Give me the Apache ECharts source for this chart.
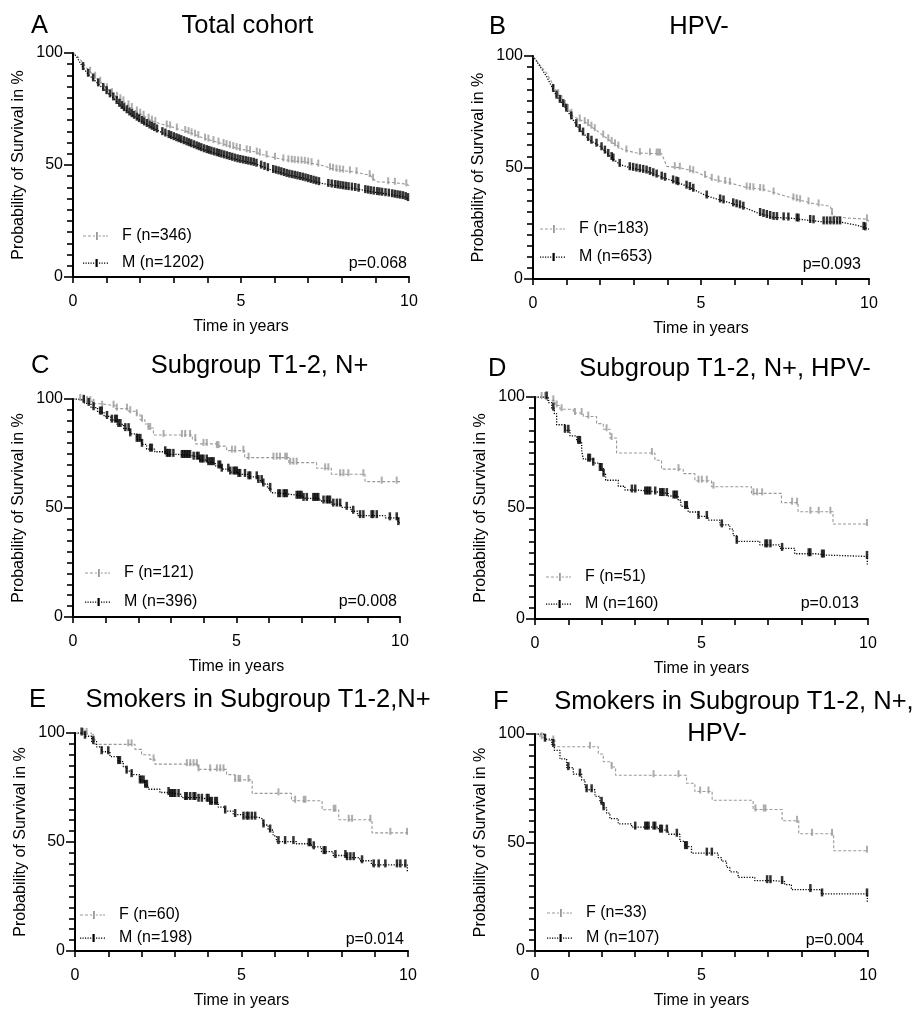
<!DOCTYPE html>
<html><head><meta charset="utf-8">
<script src="https://cdn.jsdelivr.net/npm/echarts@6/dist/echarts.min.js"></script>
<style>html,body{margin:0;padding:0;background:#fff}#c{width:919px;height:1010px}</style>
</head><body><div id="c"></div>
<script>
// ---------------- DATA ----------------
const panelLetters = ['A', 'B', 'C', 'D', 'E', 'F'];
const panelTitles = [['Total cohort'], ['HPV-'], ['Subgroup T1-2, N+'], ['Subgroup T1-2, N+, HPV-'], ['Smokers in Subgroup T1-2,N+'], ['Smokers in Subgroup T1-2, N+,', 'HPV-']];
const femaleLabels = ['F (n=346)', 'F (n=183)', 'F (n=121)', 'F (n=51)', 'F (n=60)', 'F (n=33)'];
const maleLabels = ['M (n=1202)', 'M (n=653)', 'M (n=396)', 'M (n=160)', 'M (n=198)', 'M (n=107)'];
const pValues = ['p=0.068', 'p=0.093', 'p=0.008', 'p=0.013', 'p=0.014', 'p=0.004'];
const xTicks = [0, 5, 10];
const yTicks = [0, 50, 100];
const xAxisName = 'Time in years';
const yAxisName = 'Probability of Survival in %';

// survival curves: [time in years, survival %]
const femaleA = [[0,100],[0.1,99],[0.2,97.5],[0.32,95],[0.45,92.5],[0.61,90.2],[0.75,88],[0.91,85.8],[1.05,83.6],[1.21,81.4],[1.35,80],[1.5,78.4],[1.7,76],[1.9,73.9],[2.15,71.5],[2.4,69.4],[2.65,68.2],[2.9,67.2],[3.15,66],[3.4,64.9],[3.65,63.4],[3.9,61.9],[4.15,60.8],[4.4,59.7],[4.65,58.5],[4.9,57.4],[5.15,56.6],[5.4,55.9],[5.65,54.6],[5.9,53.6],[6.15,52.8],[6.4,52.1],[6.65,51.7],[6.9,51.4],[7.15,50.6],[7.4,49.9],[7.65,48.6],[7.9,47.7],[8.15,47.3],[8.4,46.9],[8.65,46],[8.85,45.4],[8.95,43.5],[9.05,42.5],[9.5,42.2],[9.9,41.5],[10,40.8]];
const maleA = [[0,100],[0.1,98.5],[0.2,96],[0.32,93],[0.45,90.5],[0.61,88.3],[0.75,86.2],[0.91,84],[1.05,82],[1.21,79.8],[1.35,77.5],[1.5,75.4],[1.7,73],[1.9,70.9],[2.15,68.5],[2.4,66.4],[2.65,64.5],[2.9,62.8],[3.15,61.3],[3.4,59.8],[3.65,58.3],[3.9,56.8],[4.15,55.6],[4.4,54.5],[4.65,53.4],[4.9,52.3],[5.15,51.5],[5.4,50.7],[5.65,49.2],[5.9,47.8],[6.15,46.8],[6.4,45.6],[6.65,44.8],[6.9,43.9],[7.15,42.8],[7.4,41.8],[7.65,41.2],[7.9,40.6],[8.15,40],[8.4,39.5],[8.65,38.7],[8.9,38],[9.15,37.5],[9.4,37],[9.65,36.3],[9.85,35.8],[10,34.8]];
const femaleB = [[0,100],[0.2,96],[0.4,92.4],[0.55,88.5],[0.7,84.2],[0.9,79],[1.05,76],[1.19,73],[1.59,70],[1.99,65.5],[2.38,61],[2.68,58],[3.08,56.5],[3.83,56.2],[3.98,50.5],[4.37,49.9],[4.87,47.9],[5.37,44.6],[5.86,43.1],[6.36,41],[6.86,40.2],[7.35,37.9],[7.85,35.7],[8.35,33.8],[8.85,32.6],[8.92,28.3],[9.34,27.3],[9.93,26.9],[10,25.9]];
const maleB = [[0,100],[0.05,99.3],[0.2,95.5],[0.4,90.9],[0.55,86.5],[0.7,82],[0.9,78.2],[1.05,74.8],[1.19,71.5],[1.39,67],[1.55,64.5],[1.69,62.2],[1.99,59.6],[2.29,55.1],[2.58,51.4],[2.88,49.9],[3.38,48.4],[3.88,45.4],[4.27,43.5],[4.67,41],[5.17,37.2],[5.67,35],[6.16,32.8],[6.66,29.8],[7.16,27.6],[7.65,27.3],[8.15,26.4],[8.65,25.6],[9.14,25.6],[9.64,24.1],[10,22.4]];
const femaleC = [[0,100],[0.3,99],[0.6,97.8],[0.85,96.9],[1.3,95.6],[1.7,94.4],[1.95,93],[2.05,90.5],[2.2,88.5],[2.3,86.7],[2.46,83.5],[3.65,81.6],[3.75,79.4],[4.4,78.4],[4.7,76.3],[5.25,73.1],[6.6,70.8],[7.45,68.2],[7.9,65.5],[8.93,62.1],[10,62.1]];
const maleC = [[0,100],[0.15,99.4],[0.35,98],[0.55,96],[0.75,94],[0.95,92],[1.15,90.3],[1.35,88.3],[1.55,86.4],[1.75,84],[1.95,81.5],[2.1,79.2],[2.25,77],[2.5,75.8],[2.85,74.6],[3.2,74.1],[3.6,73.3],[3.85,72],[4.1,70.8],[4.35,69.3],[4.55,67.8],[4.8,66.5],[5.05,65.4],[5.35,64.3],[5.65,62.6],[5.8,61],[5.95,59],[6.05,57],[6.15,56.1],[6.75,55.4],[7.05,54.4],[7.55,53.2],[7.9,51.8],[8.2,50.3],[8.5,48.5],[8.7,46.5],[9.55,45.5],[9.95,43.3],[10,43.3]];
const femaleD = [[0,100],[0.35,98.5],[0.6,96.2],[0.75,94.5],[1.15,92.8],[1.45,91.2],[1.85,88],[2.05,85.5],[2.25,81.5],[2.45,74.8],[3.6,71.5],[3.8,67.5],[4.45,65.5],[4.8,62.3],[5.3,59.6],[6.5,56.6],[7.4,52.4],[7.9,48.3],[8.95,42.8],[10,42.8]];
const maleD = [[0,100],[0.4,97.5],[0.5,95],[0.58,92.5],[0.65,87.5],[0.9,85],[1.05,82.5],[1.25,80],[1.4,76],[1.45,72],[1.75,70.2],[1.95,67.8],[2.05,65.2],[2.12,62.5],[2.5,59.8],[2.7,58.1],[3.05,57.2],[3.7,56.5],[4.0,55.4],[4.3,53.5],[4.38,50.7],[4.6,48.2],[4.9,46.2],[5.2,44.5],[5.55,42.4],[5.85,40.5],[5.95,37.6],[6.05,35],[6.75,33.4],[7.35,31.8],[7.8,29.4],[8.45,28.8],[8.7,28.2],[9.98,24.5],[10,24.5]];
const femaleE = [[0,100],[0.5,97.3],[0.6,94.8],[1.8,92.5],[2.0,90],[2.25,87.9],[2.4,85.7],[3.7,83.3],[4.55,80.9],[4.8,78.5],[5.32,72.3],[6.5,68.9],[7.42,64.8],[7.92,60.2],[8.92,54.2],[10,54.2]];
const maleE = [[0,100],[0.3,98.5],[0.5,96],[0.65,93.6],[0.8,91.4],[1.05,89.2],[1.3,86.9],[1.45,84.5],[1.55,82.5],[1.7,80.9],[1.95,78],[2.1,76],[2.2,74.2],[2.55,72.7],[2.85,71.8],[3.2,70.4],[3.7,69.6],[4.05,68.2],[4.3,66],[4.5,64.2],[4.75,62.6],[5.05,61.4],[5.5,60.5],[5.65,57.8],[5.8,55.5],[5.95,52.8],[6.05,50.2],[6.65,49.2],[7.1,47.8],[7.4,45.6],[7.75,43.8],[8.15,42.8],[8.55,41.4],[8.9,39.5],[9.98,36.2],[10,36.2]];
const femaleF = [[0,100],[0.15,98.5],[0.3,97],[0.6,94.1],[1.9,90.8],[2.05,87.2],[2.3,84.8],[2.42,81],[4.55,77.3],[4.8,73.5],[5.32,69.5],[6.55,65.2],[7.42,60],[7.92,54],[8.97,46.2],[10,46.2]];
const maleF = [[0,100],[0.3,97.6],[0.5,95.2],[0.58,92.5],[0.75,88.5],[0.95,84.5],[1.15,81.5],[1.4,78.8],[1.5,76],[1.55,74.3],[1.8,71.3],[1.95,68.5],[2.05,66],[2.15,63.5],[2.25,61],[2.5,58.6],[2.9,57.1],[3.7,55.7],[4.0,53.8],[4.35,50.5],[4.5,48.1],[4.7,45.1],[5.5,43],[5.6,41.4],[5.75,38.5],[5.85,36.5],[6.1,33.9],[6.6,32.4],[7.15,32],[7.5,30.6],[7.7,28.3],[8.6,26.3],[9.98,22.6],[10,22.6]];

// censored observations (times in years)
const femaleCensorA = [0.51,0.66,0.81,1.01,1.16,1.31,1.41,1.5,1.65,1.75,1.9,2.0,2.1,2.25,2.35,2.45,2.79,2.89,3.09,3.34,3.44,3.53,3.63,3.73,3.93,4.03,4.18,4.33,4.48,4.57,4.67,4.77,4.87,4.97,5.17,5.27,5.47,5.56,5.76,6.01,6.26,6.41,6.51,6.6,6.7,6.8,6.9,7.0,7.1,7.3,7.65,7.74,7.84,7.94,8.04,8.24,8.44,8.83,8.93,9.38,9.58,9.92];
const maleCensorA = [0.3,0.45,0.6,0.75,0.9,1.0,1.1,1.2,1.3,1.38,1.45,1.52,1.6,1.68,1.75,1.82,1.9,1.97,2.05,2.12,2.2,2.28,2.35,2.42,2.5,2.66,2.75,2.85,2.92,3.0,3.08,3.15,3.22,3.3,3.38,3.45,3.52,3.6,3.68,3.75,3.82,3.9,3.98,4.05,4.12,4.2,4.28,4.35,4.42,4.5,4.58,4.66,4.74,4.82,4.9,4.98,5.06,5.14,5.22,5.3,5.38,5.46,5.6,5.7,5.8,5.96,6.04,6.12,6.2,6.28,6.36,6.44,6.52,6.6,6.68,6.76,6.84,6.92,7.0,7.08,7.16,7.24,7.32,7.6,7.7,7.8,7.88,7.96,8.04,8.12,8.2,8.3,8.4,8.5,8.7,8.78,8.86,8.95,9.05,9.12,9.2,9.3,9.4,9.5,9.58,9.66,9.74,9.82,9.9,9.97];
const femaleCensorB = [0.75,0.85,0.95,1.04,1.14,1.39,1.54,1.64,1.74,1.84,2.09,2.24,2.34,2.44,2.54,2.78,3.18,3.48,3.68,3.73,3.78,4.22,4.37,4.67,4.77,5.12,5.32,5.52,5.72,5.86,6.36,6.46,6.56,6.76,6.86,7.16,7.75,7.85,7.95,8.2,8.5,8.9,9.94];
const maleCensorB = [0.6,0.7,0.8,0.9,0.99,1.14,1.29,1.39,1.49,1.64,1.74,1.89,2.04,2.14,2.24,2.34,2.39,2.58,2.88,2.98,3.08,3.18,3.28,3.38,3.48,3.58,3.68,3.83,3.93,4.17,4.27,4.32,4.57,4.67,4.77,5.17,5.57,5.67,5.96,6.06,6.16,6.26,6.76,6.86,6.96,7.06,7.16,7.26,7.46,7.6,7.85,7.9,8.25,8.35,8.65,8.75,8.85,8.95,9.05,9.14,9.84,9.89];
const femaleCensorC = [0.22,0.33,0.43,0.53,0.63,0.89,1.24,1.34,1.65,1.75,1.95,2.11,2.31,2.36,2.77,3.33,3.43,3.58,3.74,3.99,4.09,4.4,4.45,4.86,4.96,5.21,5.37,6.13,6.23,6.33,6.49,6.54,6.64,6.74,6.84,7.71,7.81,8.17,8.27,8.42,8.88,9.44,9.9];
const maleCensorC = [0.33,0.48,0.63,0.83,0.88,1.04,1.19,1.29,1.34,1.39,1.45,1.6,1.7,1.75,1.95,2.0,2.06,2.11,2.36,2.41,2.82,2.87,2.92,2.97,3.07,3.33,3.38,3.43,3.48,3.53,3.58,3.69,3.79,3.84,3.89,3.94,3.99,4.09,4.14,4.2,4.25,4.3,4.45,4.5,4.55,4.75,4.81,4.91,4.96,5.01,5.06,5.11,5.26,5.37,5.42,5.62,5.67,5.77,5.82,6.03,6.28,6.33,6.44,6.49,6.54,6.84,6.89,6.94,6.99,7.05,7.15,7.35,7.4,7.45,7.5,7.66,7.76,7.81,7.86,7.96,8.07,8.17,8.37,8.57,8.78,8.88,9.13,9.18,9.29,9.69,9.9,9.95];
const femaleCensorD = [0.2,0.3,0.55,0.65,0.8,1.2,1.4,1.6,2.15,2.3,3.51,4.31,4.91,5.01,5.16,5.36,6.56,6.67,6.82,7.72,7.87,8.27,8.52,8.87,9.97];
const maleCensorD = [0.35,0.55,0.9,1.0,1.3,1.35,1.6,1.65,1.75,1.95,2.0,2.06,2.91,3.01,3.31,3.36,3.41,3.46,3.61,3.76,3.81,3.86,3.96,4.16,4.21,4.26,4.51,4.56,4.91,5.16,5.61,6.06,6.92,6.97,7.07,7.42,8.22,8.27,8.62,8.67,9.97];
const femaleCensorE = [0.25,0.35,0.55,1.6,1.7,2.36,3.36,3.46,3.56,3.66,3.71,4.06,4.26,4.36,4.46,4.81,4.91,4.96,5.21,6.11,6.61,6.87,6.92,7.77,7.82,8.22,8.32,8.87,9.47,9.97];
const maleCensorE = [0.2,0.3,0.55,0.8,1.0,1.3,1.35,1.55,1.7,1.95,2.0,2.06,2.11,2.16,2.81,2.86,2.91,2.96,3.01,3.11,3.31,3.36,3.46,3.56,3.61,3.71,3.81,3.96,4.01,4.06,4.11,4.21,4.26,4.51,4.81,5.06,5.16,5.21,5.31,5.41,5.66,5.86,6.11,6.31,6.56,7.02,7.07,7.17,7.47,7.52,7.82,8.12,8.17,8.27,8.37,8.62,8.97,9.12,9.32,9.67,9.77,9.92];
const femaleCensorF = [0.2,0.55,1.65,2.3,3.56,4.31,4.96,5.21,6.62,6.87,6.92,7.87,8.32,8.92,9.97];
const maleCensorF = [0.3,0.55,1.0,1.35,1.55,1.7,2.0,2.06,3.01,3.31,3.36,3.41,3.56,3.61,3.76,3.81,3.96,4.26,4.51,4.56,5.16,5.31,6.97,7.07,7.42,8.27,8.62,9.97];

const femaleCurves = [femaleA, femaleB, femaleC, femaleD, femaleE, femaleF];
const maleCurves = [maleA, maleB, maleC, maleD, maleE, maleF];
const femaleCensors = [femaleCensorA, femaleCensorB, femaleCensorC, femaleCensorD, femaleCensorE, femaleCensorF];
const maleCensors = [maleCensorA, maleCensorB, maleCensorC, maleCensorD, maleCensorE, maleCensorF];

// ---------------- LAYOUT / STYLE ----------------
const FONT = 'Liberation Sans, Arial, Helvetica, sans-serif';
const GRAY = '#999999';
const BLACK = '#000000';
const stepModes = [false, false, 'end', 'end', 'end', 'end'];
const grids = [
  {left: 73, top: 53, width: 336, height: 224},
  {left: 533, top: 56, width: 336, height: 223},
  {left: 73, top: 399, width: 327, height: 218},
  {left: 535, top: 397, width: 333, height: 222},
  {left: 75, top: 733, width: 333, height: 221},
  {left: 535, top: 734, width: 333, height: 221}
];
const letterPos = [[31, 26], [489, 26.5], [31, 366], [488, 369], [29, 700], [493, 701.5]];
const titlePos = [[[247.5, 26]], [[699, 26.5]], [[259.5, 366]], [[725, 369]], [[258, 700]], [[734, 701.5], [717, 733.5]]];
const legendPos = [[83, 228, 11], [540, 221, 12], [85, 565, 13], [546, 569, 11], [80, 907, 7], [547, 905, 9]];
const pPos = [[407, 264], [861, 265], [397, 602], [859, 604], [404, 940], [864, 941]];

const grayIcon = 'path://M0,3.5h3v1h-3zM5,3.5h3v1h-3zM10,3.5h2v1h-2zM13,0h1.8v8h-1.8zM15.8,3.5h2v1h-2zM19.5,3.5h2.5v1h-2.5zM23,3.5h2v1h-2z';
const blackIcon = 'path://M0,3.5h1.2v1.2h-1.2zM2.5,3.5h1.2v1.2h-1.2zM5,3.5h1.2v1.2h-1.2zM7.5,3.5h1.2v1.2h-1.2zM10,3.5h1.2v1.2h-1.2zM12.5,0h2.2v8h-2.2zM16,3.5h1.2v1.2h-1.2zM18.5,3.5h1.2v1.2h-1.2zM21,3.5h1.2v1.2h-1.2zM23.8,3.5h1.2v1.2h-1.2z';

function survAt(curve, t, linear) {
  for (let i = curve.length - 1; i >= 0; i--) {
    if (curve[i][0] <= t) {
      if (linear && i < curve.length - 1) {
        const a = curve[i], b = curve[i + 1];
        return a[1] + (b[1] - a[1]) * (t - a[0]) / (b[0] - a[0]);
      }
      return curve[i][1];
    }
  }
  return 100;
}

const baseText = {fontFamily: FONT, color: '#000', fontWeight: 'normal'};
const option = {
  animation: false,
  backgroundColor: '#fff',
  grid: grids.map(g => Object.assign({containLabel: false}, g)),
  title: [],
  legend: [],
  xAxis: [],
  yAxis: [],
  series: []
};

for (let i = 0; i < 6; i++) {
  option.xAxis.push({
    type: 'value', gridIndex: i, min: xTicks[0], max: xTicks[2], interval: xTicks[1] - xTicks[0],
    name: xAxisName, nameLocation: 'middle', nameGap: 42,
    nameTextStyle: Object.assign({fontSize: 16}, baseText),
    axisLine: {show: true, onZero: false, lineStyle: {color: '#000', width: 2}},
    axisTick: {show: true, length: 6, lineStyle: {color: '#000', width: 1.6}},
    minorTick: {show: true, splitNumber: 5, length: 6, lineStyle: {color: '#000', width: 1.6}},
    axisLabel: Object.assign({fontSize: 16, margin: 17}, baseText),
    splitLine: {show: false}
  });
  option.yAxis.push({
    type: 'value', gridIndex: i, min: yTicks[0], max: yTicks[2], interval: yTicks[1] - yTicks[0],
    name: yAxisName, nameLocation: 'middle', nameGap: 46,
    nameTextStyle: Object.assign({fontSize: 16}, baseText),
    axisLine: {show: true, onZero: false, lineStyle: {color: '#000', width: 2}},
    axisTick: {show: true, length: 9, lineStyle: {color: '#000', width: 1.6}},
    minorTick: {show: true, splitNumber: 10, length: 6, lineStyle: {color: '#000', width: 1.6}},
    axisLabel: Object.assign({fontSize: 16, margin: 10}, baseText),
    splitLine: {show: false}
  });

  // titles
  option.title.push({
    text: panelLetters[i], left: letterPos[i][0], top: letterPos[i][1], padding: 0,
    textVerticalAlign: 'middle', textStyle: Object.assign({fontSize: 25.5}, baseText)
  });
  panelTitles[i].forEach((line, k) => {
    option.title.push({
      text: line, left: titlePos[i][k][0], top: titlePos[i][k][1], padding: 0,
      textAlign: 'center', textVerticalAlign: 'middle',
      textStyle: Object.assign({fontSize: 25.5}, baseText)
    });
  });
  option.title.push({
    text: pValues[i], left: pPos[i][0], top: pPos[i][1], padding: 0,
    textAlign: 'right', textVerticalAlign: 'middle',
    textStyle: Object.assign({fontSize: 16}, baseText)
  });

  // legend
  option.legend.push({
    orient: 'vertical', left: legendPos[i][0], top: legendPos[i][1], itemGap: legendPos[i][2],
    itemWidth: 25, itemHeight: 8, padding: 0, selectedMode: false,
    textStyle: Object.assign({fontSize: 16, padding: [0, 0, 0, 9]}, baseText),
    data: [
      {name: femaleLabels[i], icon: grayIcon, itemStyle: {color: GRAY, borderWidth: 0}},
      {name: maleLabels[i], icon: blackIcon, itemStyle: {color: BLACK, borderWidth: 0}}
    ]
  });

  const linear = !stepModes[i];
  option.series.push({
    type: 'line', name: femaleLabels[i], xAxisIndex: i, yAxisIndex: i,
    data: femaleCurves[i], step: stepModes[i], symbol: 'none', silent: true, z: 2,
    itemStyle: {color: GRAY}, lineStyle: {color: GRAY, width: 1.1, type: [3, 2]}
  });
  option.series.push({
    type: 'line', name: maleLabels[i], xAxisIndex: i, yAxisIndex: i,
    data: maleCurves[i], step: stepModes[i], symbol: 'none', silent: true, z: 3,
    itemStyle: {color: BLACK}, lineStyle: {color: BLACK, width: 1.3, type: [1.2, 1.5]}
  });
  option.series.push({
    type: 'scatter', name: femaleLabels[i], xAxisIndex: i, yAxisIndex: i, silent: true, z: 4,
    data: femaleCensors[i].map(t => [t, survAt(femaleCurves[i], t, linear)]),
    symbol: 'rect', symbolSize: [2, 7], symbolOffset: [0, -1.5], itemStyle: {color: GRAY}
  });
  option.series.push({
    type: 'scatter', name: maleLabels[i], xAxisIndex: i, yAxisIndex: i, silent: true, z: 5,
    data: maleCensors[i].map(t => [t, survAt(maleCurves[i], t, linear)]),
    symbol: 'rect', symbolSize: [2.5, 8], symbolOffset: [0, -1.5], itemStyle: {color: BLACK}
  });
}

const chart = echarts.init(document.getElementById('c'), null, {renderer: 'canvas'});
chart.setOption(option);
</script>
</body></html>
